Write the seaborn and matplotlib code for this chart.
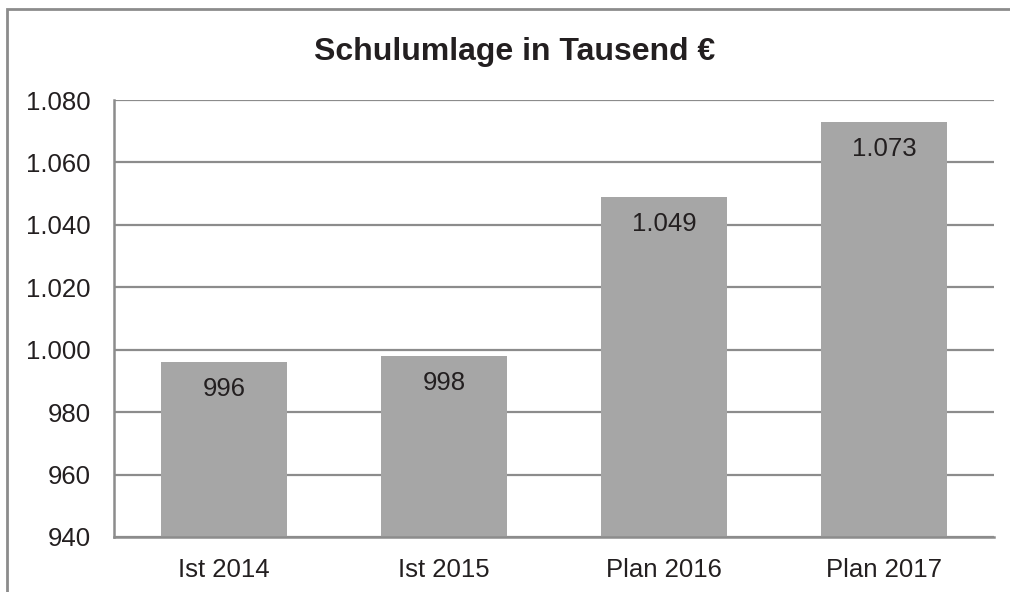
import matplotlib
matplotlib.use("Agg")
import matplotlib.pyplot as plt
import matplotlib.patches as mpatches
import seaborn as sns
import pandas as pd

categories = ["Ist 2014", "Ist 2015", "Plan 2016", "Plan 2017"]
values = [996, 998, 1049, 1073]
yticks = [940, 960, 980, 1000, 1020, 1040, 1060, 1080]
title = "Schulumlage in Tausend €"

def de_fmt(v):
    return f"{v:,.0f}".replace(",", ".")

sns.set_theme(style="white")
plt.rcParams['font.family'] = ['Liberation Sans', 'DejaVu Sans']

W, H = 1010, 592
fig = plt.figure(figsize=(W / 100, H / 100), dpi=100)
ax = fig.add_axes([114 / W, 1 - 537 / H, (994 - 114) / W, (537 - 100) / H])

df = pd.DataFrame({"cat": categories, "val": values})
sns.barplot(data=df, x="cat", y="val", color="#a6a6a6", saturation=1,
            width=0.573, ax=ax, zorder=3)
for p in ax.patches:
    p.set_edgecolor("none")

ax.set_ylim(940, 1080)
ax.set_yticks(yticks)
ax.set_yticklabels([de_fmt(v) for v in yticks])
ax.set_xlabel("")
ax.set_ylabel("")
ax.grid(axis="y", color="#8c8c8c", linewidth=1.6, zorder=1)
ax.grid(axis="x", visible=False)
for s in ["top", "right"]:
    ax.spines[s].set_visible(False)
for s in ["left", "bottom"]:
    ax.spines[s].set_color("#8c8c8c")
    ax.spines[s].set_linewidth(1.8)
    ax.spines[s].set_zorder(4)
ax.tick_params(axis="both", length=0, labelsize=18.5, colors="#231f20")
ax.tick_params(axis="y", pad=17)
ax.tick_params(axis="x", pad=15)

for i, v in enumerate(values):
    ax.annotate(de_fmt(v), xy=(i, v), xytext=(0, -27), textcoords="offset pixels",
                ha="center", va="center", fontsize=18.5, color="#231f20", zorder=5)

fig.text(515 / W, 1 - 52 / H, title, ha="center", va="center",
         fontsize=23, fontweight="bold", color="#231f20")

border = mpatches.Rectangle((7 / W, -0.05), 1.2, (H - 9) / H + 0.05,
                            transform=fig.transFigure, fill=False,
                            edgecolor="#8c8c8c", linewidth=2.0, clip_on=False)
fig.patches.append(border)

fig.savefig("out.png", dpi=100)
